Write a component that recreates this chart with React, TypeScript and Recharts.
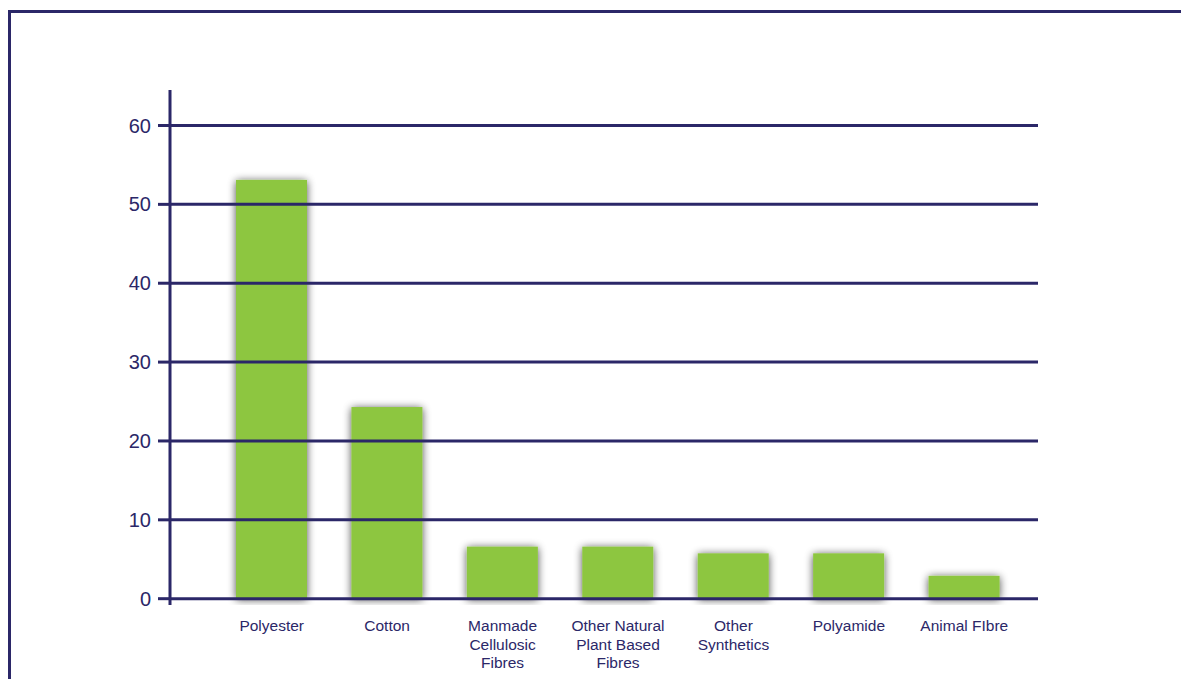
import { Bar, BarChart, ReferenceLine, XAxis, YAxis } from "recharts";

const categories = [
  "Polyester",
  "Cotton",
  "Manmade Cellulosic Fibres",
  "Other Natural Plant Based Fibres",
  "Other Synthetics",
  "Polyamide",
  "Animal FIbre",
];
const labelLines = [
  ["Polyester"],
  ["Cotton"],
  ["Manmade", "Cellulosic", "Fibres"],
  ["Other Natural", "Plant Based", "Fibres"],
  ["Other", "Synthetics"],
  ["Polyamide"],
  ["Animal FIbre"],
];
const shares = [53.1, 24.3, 6.6, 6.6, 5.75, 5.75, 2.9];
const yTicks = [0, 10, 20, 30, 40, 50, 60];

const NAVY = "#2b2768";
const GREEN = "#8dc63f";
const FONT = "'Liberation Sans', Arial, sans-serif";

const data = categories.map((name, i) => ({ name, value: shares[i] }));

const CategoryTick = (props: { x?: number; y?: number; payload?: { index: number } }) => {
  const { x = 0, y = 0, payload } = props;
  const lines = labelLines[payload?.index ?? 0] ?? [];
  return (
    <text x={x} y={y + 18} textAnchor="middle" fill={NAVY} fontSize={15.5} fontFamily={FONT}>
      {lines.map((l, i) => (
        <tspan key={i} x={x} dy={i === 0 ? 0 : 18.5}>
          {l}
        </tspan>
      ))}
    </text>
  );
};

// bar with a soft grey drop shadow, like the original artwork
const ShadowBar = (props: any) => {
  const { x, y, width, height, index } = props;
  const id = `barShadow${index}`;
  return (
    <g>
      <defs>
        <filter id={id} x="-50%" y="-50%" width="200%" height="200%" filterUnits="objectBoundingBox">
          <feGaussianBlur in="SourceAlpha" stdDeviation="4" result="blur" />
          <feOffset in="blur" dx="0" dy="1" result="off" />
          <feComponentTransfer in="off" result="shadow">
            <feFuncA type="linear" slope="0.7" />
          </feComponentTransfer>
          <feMerge>
            <feMergeNode in="shadow" />
            <feMergeNode in="SourceGraphic" />
          </feMerge>
        </filter>
      </defs>
      <rect x={x} y={y} width={width} height={height} fill={GREEN} filter={`url(#${id})`} />
    </g>
  );
};

export default function App() {
  return (
    <div
      style={{
        position: "absolute",
        left: 0,
        top: 0,
        width: 1181,
        height: 679,
        overflow: "hidden",
        background: "#fff",
      }}
    >
      <div
        style={{
          position: "absolute",
          left: 8,
          top: 10,
          width: 1300,
          height: 800,
          borderLeft: `3px solid ${NAVY}`,
          borderTop: `3px solid ${NAVY}`,
        }}
      />
      <div style={{ position: "absolute", left: 0, top: 0 }}>
        <BarChart
          width={1181}
          height={679}
          data={data}
          margin={{ top: 90, right: 143, left: 0, bottom: 4 }}
          barSize={71}
        >
          {yTicks.map((t) => (
            <ReferenceLine key={t} y={t} stroke={NAVY} strokeWidth={3} />
          ))}
          <XAxis
            dataKey="name"
            height={70}
            axisLine={false}
            tickLine={false}
            interval={0}
            padding={{ left: 44, right: 16 }}
            tick={<CategoryTick />}
          />
          <YAxis
            width={170}
            domain={[-0.8, 64.5]}
            ticks={yTicks}
            allowDataOverflow
            axisLine={{ stroke: NAVY, strokeWidth: 3 }}
            tickLine={{ stroke: NAVY, strokeWidth: 3 }}
            tickSize={12}
            tickMargin={7}
            tick={{ fill: NAVY, fontSize: 20, fontFamily: FONT }}
          />
          <Bar dataKey="value" fill={GREEN} shape={<ShadowBar />} isAnimationActive={false} />
        </BarChart>
      </div>
    </div>
  );
}
